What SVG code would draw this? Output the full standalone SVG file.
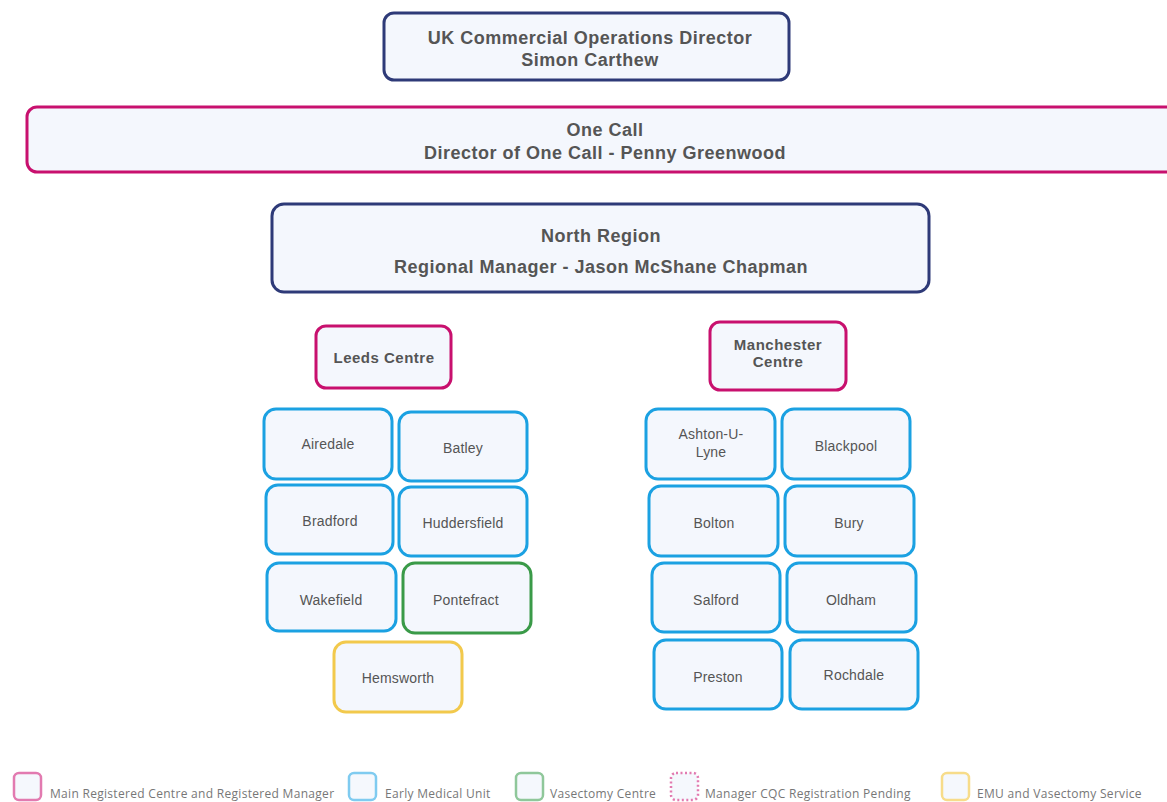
<svg xmlns="http://www.w3.org/2000/svg" width="1167" height="802" viewBox="0 0 1167 802">
<style>
  .node rect { fill: #F4F7FD; stroke-width: 3; }
  .navy { stroke: #2E3A78; }
  .pink { stroke: #C8106E; }
  .blue { stroke: #1BA1E2; }
  .green { stroke: #3A9A48; }
  .yellow { stroke: #F2C94C; }
  .big { font-family: "Liberation Sans", Arial, sans-serif; font-weight: bold; font-size: 18px; letter-spacing: 0.5px; fill: #555555; text-anchor: middle; }
  .mid { font-family: "Liberation Sans", Arial, sans-serif; font-weight: bold; font-size: 15px; letter-spacing: 0.5px; fill: #555555; text-anchor: middle; }
  .small { font-family: "Liberation Sans", Arial, sans-serif; font-size: 14px; letter-spacing: 0.2px; fill: #555555; text-anchor: middle; }
  .leg rect { fill: #F5F8FD; stroke-width: 2.5; }
  .legtxt { font-family: "Open Sans", "Liberation Sans", sans-serif; font-size: 12px; letter-spacing: 0.3px; fill: #777777; }
</style>
<rect width="1167" height="802" fill="#FFFFFF"/>
<g id="connectors"/>

<g id="uk-director" class="node">
  <rect class="navy" x="384" y="13" width="405" height="67" rx="10"/>
  <text class="big" x="590" y="44">UK Commercial Operations Director</text>
  <text class="big" x="590" y="66">Simon Carthew</text>
</g>

<g id="one-call" class="node">
  <rect class="pink" x="27" y="107" width="1160" height="65" rx="10"/>
  <text class="big" x="605" y="136">One Call</text>
  <text class="big" x="605" y="159">Director of One Call - Penny Greenwood</text>
</g>

<g id="north-region" class="node">
  <rect class="navy" x="272" y="204" width="657" height="88" rx="12"/>
  <text class="big" x="601" y="242">North Region</text>
  <text class="big" x="601" y="273">Regional Manager - Jason McShane Chapman</text>
</g>

<g id="leeds-centre" class="node">
  <rect class="pink" x="316" y="326" width="135" height="62" rx="10"/>
  <text class="mid" x="384" y="363">Leeds Centre</text>
</g>

<g id="manchester-centre" class="node">
  <rect class="pink" x="710" y="322" width="136" height="68" rx="10"/>
  <text class="mid" x="778" y="350">Manchester</text>
  <text class="mid" x="778" y="367">Centre</text>
</g>

<g id="airedale" class="node">
  <rect class="blue" x="264" y="409" width="128" height="70" rx="12"/>
  <text class="small" x="328" y="449">Airedale</text>
</g>
<g id="batley" class="node">
  <rect class="blue" x="399" y="412" width="128" height="69" rx="12"/>
  <text class="small" x="463" y="453">Batley</text>
</g>
<g id="bradford" class="node">
  <rect class="blue" x="266" y="485" width="127" height="69" rx="12"/>
  <text class="small" x="330" y="526">Bradford</text>
</g>
<g id="huddersfield" class="node">
  <rect class="blue" x="399" y="487" width="128" height="69" rx="12"/>
  <text class="small" x="463" y="528">Huddersfield</text>
</g>
<g id="wakefield" class="node">
  <rect class="blue" x="267" y="563" width="129" height="68" rx="12"/>
  <text class="small" x="331" y="605">Wakefield</text>
</g>
<g id="pontefract" class="node">
  <rect class="green" x="403" y="563" width="128" height="70" rx="12"/>
  <text class="small" x="466" y="605">Pontefract</text>
</g>
<g id="hemsworth" class="node">
  <rect class="yellow" x="334" y="642" width="128" height="70" rx="12"/>
  <text class="small" x="398" y="683">Hemsworth</text>
</g>

<g id="ashton-u-lyne" class="node">
  <rect class="blue" x="646" y="409" width="129" height="70" rx="12"/>
  <text class="small" x="711" y="439">Ashton-U-</text>
  <text class="small" x="711" y="457">Lyne</text>
</g>
<g id="blackpool" class="node">
  <rect class="blue" x="782" y="409" width="128" height="70" rx="12"/>
  <text class="small" x="846" y="451">Blackpool</text>
</g>
<g id="bolton" class="node">
  <rect class="blue" x="649" y="486" width="129" height="70" rx="12"/>
  <text class="small" x="714" y="528">Bolton</text>
</g>
<g id="bury" class="node">
  <rect class="blue" x="785" y="486" width="129" height="70" rx="12"/>
  <text class="small" x="849" y="528">Bury</text>
</g>
<g id="salford" class="node">
  <rect class="blue" x="652" y="563" width="128" height="69" rx="12"/>
  <text class="small" x="716" y="605">Salford</text>
</g>
<g id="oldham" class="node">
  <rect class="blue" x="787" y="563" width="129" height="69" rx="12"/>
  <text class="small" x="851" y="605">Oldham</text>
</g>
<g id="preston" class="node">
  <rect class="blue" x="654" y="640" width="128" height="69" rx="12"/>
  <text class="small" x="718" y="682">Preston</text>
</g>
<g id="rochdale" class="node">
  <rect class="blue" x="790" y="640" width="128" height="69" rx="12"/>
  <text class="small" x="854" y="680">Rochdale</text>
</g>

<g id="legend" class="leg">
  <rect x="14" y="773" width="27" height="27" rx="5" stroke="#E27AB0"/>
  <text class="legtxt" x="50" y="798">Main Registered Centre and Registered Manager</text>
  <rect x="349" y="773" width="27" height="27" rx="5" stroke="#7FCBF0"/>
  <text class="legtxt" x="385" y="798">Early Medical Unit</text>
  <rect x="516" y="773" width="27" height="27" rx="5" stroke="#8FC79A"/>
  <text class="legtxt" x="550" y="798">Vasectomy Centre</text>
  <rect x="671" y="773" width="27" height="27" rx="5" stroke="#E27AB0" stroke-dasharray="2 2.5"/>
  <text class="legtxt" x="705" y="798">Manager CQC Registration Pending</text>
  <rect x="942" y="773" width="27" height="27" rx="5" stroke="#F7DC8A"/>
  <text class="legtxt" x="977" y="798">EMU and Vasectomy Service</text>
</g>
</svg>
